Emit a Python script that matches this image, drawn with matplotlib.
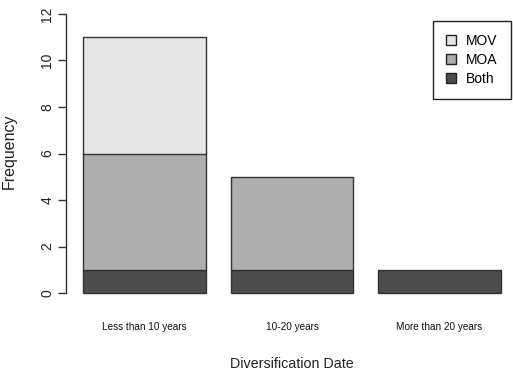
import matplotlib
matplotlib.use("Agg")
import matplotlib.pyplot as plt
import numpy as np

plt.rcParams['font.family'] = ['Liberation Sans', 'DejaVu Sans']

categories = ["Less than 10 years", "10-20 years", "More than 20 years"]
both = [1, 1, 1]
moa = [5, 4, 0]
mov = [5, 0, 0]
series_names = ["MOV", "MOA", "Both"]
colors = {"Both": "#4D4D4D", "MOA": "#AEAEAE", "MOV": "#E6E6E6"}

W, H = 513, 371
fig = plt.figure(figsize=(W / 100, H / 100), dpi=100)
left_px, right_px, top_px, bottom_px = 66.4, 513, 2.8, 304.2
ax = fig.add_axes([left_px / W, 1 - bottom_px / H,
                   (right_px - left_px) / W, (bottom_px - top_px) / H])

# R-style barplot geometry: width 1, space 0.2
x = 0.2 + np.arange(len(categories)) * 1.2 + 0.5
bottom = np.zeros(len(categories))
for name, vals in (("Both", both), ("MOA", moa), ("MOV", mov)):
    vals = np.array(vals, dtype=float)
    mask = vals > 0
    ax.bar(x[mask], vals[mask], width=1.0, bottom=bottom[mask],
           color=colors[name], edgecolor="#333333", linewidth=1.0)
    bottom += vals

ax.set_xlim(0.064, 3.6 + 12 / 122)
ax.set_ylim(-0.48, 12.48)

for s in ("top", "right", "bottom"):
    ax.spines[s].set_visible(False)
ax.spines["left"].set_bounds(0, 12)
ax.spines["left"].set_linewidth(1.0)
ax.spines["left"].set_color("#333333")

ax.set_yticks(np.arange(0, 13, 2))
ax.tick_params(axis="y", length=5.8, width=1.0, color="#333333", pad=3,
               labelsize=10, labelcolor="#222222")
for lab in ax.get_yticklabels():
    lab.set_rotation(90)
    lab.set_va("center")

ax.set_xticks(x)
ax.set_xticklabels(categories, fontsize=7.2, color="#111111")
ax.tick_params(axis="x", length=0, pad=12.8)

ax.set_ylabel("Frequency", fontsize=11.5, color="#222222")
ax.yaxis.set_label_coords(-0.128, 0.507)
ax.yaxis.label.set_va("center")

ax.set_xlabel("Diversification Date", fontsize=10.3, color="#222222")
ax.xaxis.set_label_coords(0.505, -0.176)

leg = ax.legend([plt.Rectangle((0, 0), 1, 1, fc=colors[n], ec="#222222", lw=1.0)
                 for n in series_names], series_names,
                loc="upper right", bbox_to_anchor=((511 - left_px) / (right_px - left_px),
                                                   (bottom_px - 21) / (bottom_px - top_px)),
                fancybox=False, framealpha=1, edgecolor="#222222",
                fontsize=10, handlelength=0.72, handleheight=0.72,
                handletextpad=0.75, borderpad=0.95, labelspacing=0.34,
                borderaxespad=0)
leg.get_frame().set_linewidth(1.0)

fig.savefig("out.png", dpi=100)
